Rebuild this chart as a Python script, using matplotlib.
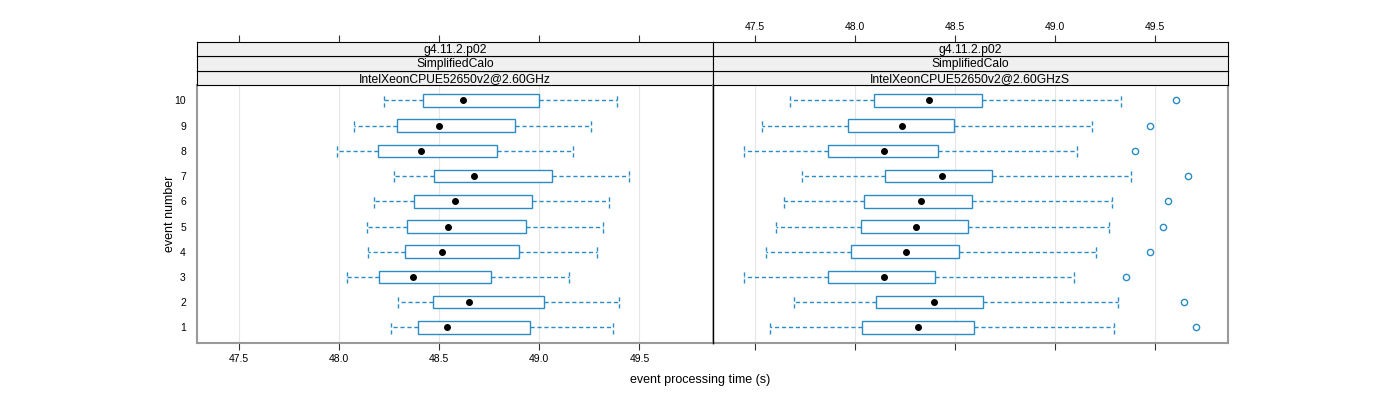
import matplotlib
matplotlib.use('Agg')
import matplotlib.pyplot as plt
from matplotlib.ticker import FormatStrFormatter

plt.rcParams['font.family'] = ['Liberation Sans', 'DejaVu Sans']

events = [1, 2, 3, 4, 5, 6, 7, 8, 9, 10]
strip_top = ['g4.11.2.p02', 'g4.11.2.p02']
strip_mid = ['SimplifiedCalo', 'SimplifiedCalo']
strip_bot = ['IntelXeonCPUE52650v2@2.60GHz', 'IntelXeonCPUE52650v2@2.60GHzS']

# left panel, events 1..10
left_whislo = [48.257, 48.296, 48.037, 48.146, 48.137, 48.176, 48.276, 47.987, 48.075, 48.226]
left_q1 = [48.396, 48.471, 48.201, 48.327, 48.338, 48.376, 48.476, 48.196, 48.287, 48.421]
left_med = [48.537, 48.648, 48.368, 48.513, 48.543, 48.578, 48.676, 48.407, 48.498, 48.618]
left_q3 = [48.953, 49.021, 48.758, 48.900, 48.934, 48.964, 49.064, 48.787, 48.878, 49.000]
left_whishi = [49.368, 49.398, 49.148, 49.287, 49.319, 49.348, 49.448, 49.167, 49.258, 49.387]
left_out = [[], [], [], [], [], [], [], [], [], []]

# right panel, events 1..10
right_whislo = [47.577, 47.698, 47.448, 47.558, 47.608, 47.648, 47.739, 47.448, 47.538, 47.677]
right_q1 = [48.035, 48.109, 47.865, 47.983, 48.030, 48.049, 48.154, 47.865, 47.965, 48.099]
right_med = [48.317, 48.398, 48.149, 48.257, 48.309, 48.329, 48.438, 48.149, 48.238, 48.369]
right_q3 = [48.594, 48.640, 48.400, 48.520, 48.565, 48.586, 48.686, 48.414, 48.496, 48.636]
right_whishi = [49.297, 49.318, 49.098, 49.208, 49.271, 49.288, 49.378, 49.111, 49.188, 49.329]
right_out = [[49.705], [49.646], [49.356], [49.476], [49.538], [49.567], [49.667], [49.398], [49.476], [49.607]]

xticks = [47.5, 48.0, 48.5, 49.0, 49.5]
xlim = (47.29, 49.865)
blue = '#2b8cc4'
border = '#999999'

fig = plt.figure(figsize=(14, 4), dpi=100)

px_l, px_r = 197 / 1400, 1228 / 1400
pw = (px_r - px_l) / 2
pb = 1 - 342.5 / 400
ph = (342.5 - 85.3) / 400
sh = 14.5 / 400

panels = [
    (left_whislo, left_q1, left_med, left_q3, left_whishi, left_out),
    (right_whislo, right_q1, right_med, right_q3, right_whishi, right_out),
]

for i, (wl, q1, med, q3, wh, out) in enumerate(panels):
    ax = fig.add_axes([px_l + i * pw, pb, pw, ph])
    stats = []
    for k in range(len(events)):
        stats.append(dict(whislo=wl[k], q1=q1[k], med=med[k], q3=q3[k], whishi=wh[k], fliers=out[k]))
    for t in xticks:
        ax.axvline(t, color='#e6e6e6', lw=0.8, zorder=0)
    ax.bxp(stats, positions=events, widths=0.5, capwidths=0.5, orientation='horizontal',
           patch_artist=True,
           boxprops=dict(facecolor='white', edgecolor=blue, lw=1.0),
           whiskerprops=dict(color=blue, lw=1.0, ls=(0, (3, 2))),
           capprops=dict(color=blue, lw=1.0, ls=(0, (3, 2))),
           medianprops=dict(visible=False),
           flierprops=dict(marker='o', markerfacecolor='none', markeredgecolor=blue,
                           markersize=4.5, markeredgewidth=1.0))
    ax.plot(med, events, 'o', color='black', markersize=4, zorder=5)
    ax.set_xlim(*xlim)
    ax.set_ylim(0.4, 10.6)
    ax.set_xticks(xticks)
    ax.set_yticks(events)
    ax.xaxis.set_major_formatter(FormatStrFormatter('%.1f'))
    ax.tick_params(axis='x', length=5, width=0.8, color='#333333', labelsize=7.5,
                   top=False, bottom=True, labeltop=False, labelbottom=(i == 0), pad=3)
    if i == 0:
        ax.set_yticklabels([str(e) for e in events])
        ax.tick_params(axis='y', length=0, labelsize=7.5, pad=8)
    else:
        ax.tick_params(axis='y', length=0, labelleft=False)
    for s in ax.spines.values():
        s.set_color(border)
        s.set_linewidth(1.5)
    if i == 0:
        ax.spines['right'].set_color('black')
        ax.spines['right'].set_linewidth(1.0)
    else:
        ax.spines['left'].set_color('black')
        ax.spines['left'].set_linewidth(1.0)
        ax.spines['left'].set_zorder(10)

    for j, txt in enumerate([strip_bot[i], strip_mid[i], strip_top[i]]):
        sax = fig.add_axes([px_l + i * pw, pb + ph + j * sh, pw, sh])
        sax.set_facecolor('#f0f0f0')
        sax.set_xlim(*xlim)
        sax.set_yticks([])
        sax.set_xticks(xticks)
        sax.xaxis.set_major_formatter(FormatStrFormatter('%.1f'))
        if j == 2:
            sax.tick_params(axis='x', length=5, width=0.8, color='#333333', labelsize=7.5,
                            top=True, bottom=False, labeltop=(i == 1), labelbottom=False, pad=2)
        else:
            sax.tick_params(axis='x', length=0, labelbottom=False)
        for s in sax.spines.values():
            s.set_color('black')
            s.set_linewidth(0.8)
        sax.text(0.5, 0.45, txt, ha='center', va='center', fontsize=8.7, transform=sax.transAxes)

fig.text(0.5, 1 - 380 / 400, 'event processing time (s)', ha='center', va='center', fontsize=9)
fig.text(170 / 1400, pb + ph / 2, 'event number', ha='center', va='center', rotation=90, fontsize=9)

fig.savefig('out.png', dpi=100)
